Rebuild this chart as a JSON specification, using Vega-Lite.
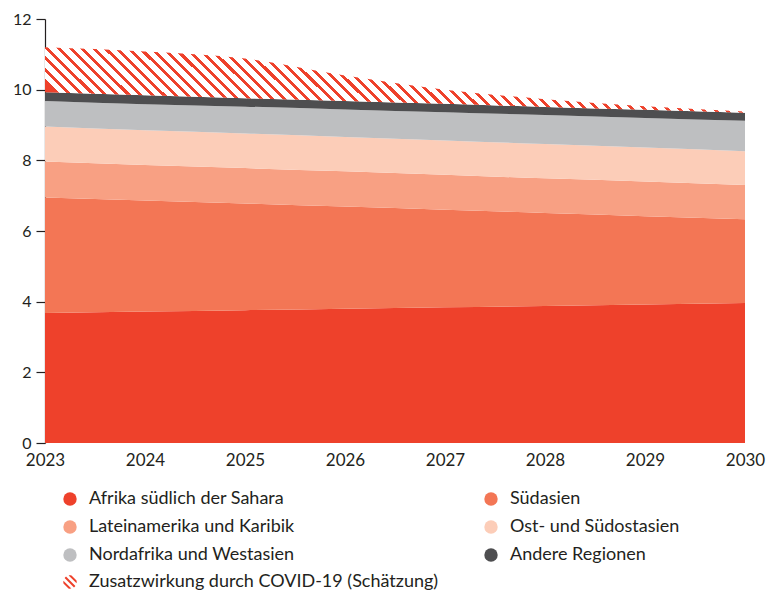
{
  "$schema": "https://vega.github.io/schema/vega-lite/v6.json",
  "autosize": {"type": "none"},
  "width": 700,
  "height": 424,
  "padding": {"left": 45, "top": 19, "right": 37, "bottom": 150},
  "background": "#ffffff",
  "config": {
    "view": {"stroke": null},
    "font": "Lato",
    "axis": {"labelFont": "Lato", "labelColor": "#231F20", "grid": false},
    "legend": {"labelFont": "Lato", "labelFontSize": 18, "labelColor": "#231F20", "labelOffset": 10, "labelLimit": 500, "padding": 0, "symbolSize": 180, "symbolStrokeWidth": 0, "symbolOpacity": 1, "title": null}
  },
  "data": {
    "values": [
      {"year": 2023, "region": "Afrika südlich der Sahara", "value": 3.68, "order": 1},
      {"year": 2024, "region": "Afrika südlich der Sahara", "value": 3.72, "order": 1},
      {"year": 2025, "region": "Afrika südlich der Sahara", "value": 3.76, "order": 1},
      {"year": 2026, "region": "Afrika südlich der Sahara", "value": 3.80, "order": 1},
      {"year": 2027, "region": "Afrika südlich der Sahara", "value": 3.84, "order": 1},
      {"year": 2028, "region": "Afrika südlich der Sahara", "value": 3.88, "order": 1},
      {"year": 2029, "region": "Afrika südlich der Sahara", "value": 3.92, "order": 1},
      {"year": 2030, "region": "Afrika südlich der Sahara", "value": 3.96, "order": 1},
      {"year": 2023, "region": "Südasien", "value": 3.27, "order": 2},
      {"year": 2024, "region": "Südasien", "value": 3.14, "order": 2},
      {"year": 2025, "region": "Südasien", "value": 3.02, "order": 2},
      {"year": 2026, "region": "Südasien", "value": 2.89, "order": 2},
      {"year": 2027, "region": "Südasien", "value": 2.76, "order": 2},
      {"year": 2028, "region": "Südasien", "value": 2.63, "order": 2},
      {"year": 2029, "region": "Südasien", "value": 2.50, "order": 2},
      {"year": 2030, "region": "Südasien", "value": 2.37, "order": 2},
      {"year": 2023, "region": "Lateinamerika und Karibik", "value": 1.02, "order": 3},
      {"year": 2024, "region": "Lateinamerika und Karibik", "value": 1.01, "order": 3},
      {"year": 2025, "region": "Lateinamerika und Karibik", "value": 1.00, "order": 3},
      {"year": 2026, "region": "Lateinamerika und Karibik", "value": 1.00, "order": 3},
      {"year": 2027, "region": "Lateinamerika und Karibik", "value": 0.99, "order": 3},
      {"year": 2028, "region": "Lateinamerika und Karibik", "value": 0.98, "order": 3},
      {"year": 2029, "region": "Lateinamerika und Karibik", "value": 0.98, "order": 3},
      {"year": 2030, "region": "Lateinamerika und Karibik", "value": 0.97, "order": 3},
      {"year": 2023, "region": "Ost- und Südostasien", "value": 0.99, "order": 4},
      {"year": 2024, "region": "Ost- und Südostasien", "value": 0.98, "order": 4},
      {"year": 2025, "region": "Ost- und Südostasien", "value": 0.98, "order": 4},
      {"year": 2026, "region": "Ost- und Südostasien", "value": 0.97, "order": 4},
      {"year": 2027, "region": "Ost- und Südostasien", "value": 0.97, "order": 4},
      {"year": 2028, "region": "Ost- und Südostasien", "value": 0.97, "order": 4},
      {"year": 2029, "region": "Ost- und Südostasien", "value": 0.96, "order": 4},
      {"year": 2030, "region": "Ost- und Südostasien", "value": 0.96, "order": 4},
      {"year": 2023, "region": "Nordafrika und Westasien", "value": 0.72, "order": 5},
      {"year": 2024, "region": "Nordafrika und Westasien", "value": 0.74, "order": 5},
      {"year": 2025, "region": "Nordafrika und Westasien", "value": 0.76, "order": 5},
      {"year": 2026, "region": "Nordafrika und Westasien", "value": 0.78, "order": 5},
      {"year": 2027, "region": "Nordafrika und Westasien", "value": 0.80, "order": 5},
      {"year": 2028, "region": "Nordafrika und Westasien", "value": 0.82, "order": 5},
      {"year": 2029, "region": "Nordafrika und Westasien", "value": 0.84, "order": 5},
      {"year": 2030, "region": "Nordafrika und Westasien", "value": 0.86, "order": 5},
      {"year": 2023, "region": "Andere Regionen", "value": 0.25, "order": 6},
      {"year": 2024, "region": "Andere Regionen", "value": 0.25, "order": 6},
      {"year": 2025, "region": "Andere Regionen", "value": 0.24, "order": 6},
      {"year": 2026, "region": "Andere Regionen", "value": 0.24, "order": 6},
      {"year": 2027, "region": "Andere Regionen", "value": 0.24, "order": 6},
      {"year": 2028, "region": "Andere Regionen", "value": 0.23, "order": 6},
      {"year": 2029, "region": "Andere Regionen", "value": 0.23, "order": 6},
      {"year": 2030, "region": "Andere Regionen", "value": 0.23, "order": 6},
      {"year": 2023, "region": "Zusatzwirkung durch COVID-19 (Schätzung)", "value": 1.27, "order": 7},
      {"year": 2024, "region": "Zusatzwirkung durch COVID-19 (Schätzung)", "value": 1.24, "order": 7},
      {"year": 2025, "region": "Zusatzwirkung durch COVID-19 (Schätzung)", "value": 1.12, "order": 7},
      {"year": 2026, "region": "Zusatzwirkung durch COVID-19 (Schätzung)", "value": 0.72, "order": 7},
      {"year": 2027, "region": "Zusatzwirkung durch COVID-19 (Schätzung)", "value": 0.40, "order": 7},
      {"year": 2028, "region": "Zusatzwirkung durch COVID-19 (Schätzung)", "value": 0.22, "order": 7},
      {"year": 2029, "region": "Zusatzwirkung durch COVID-19 (Schätzung)", "value": 0.10, "order": 7},
      {"year": 2030, "region": "Zusatzwirkung durch COVID-19 (Schätzung)", "value": 0.03, "order": 7}
    ]
  },
  "layer": [
    {
      "transform": [{"filter": "datum.order < 7"}],
      "mark": {"type": "area", "interpolate": "monotone"},
      "encoding": {
        "x": {
          "field": "year", "type": "quantitative",
          "scale": {"domain": [2023, 2030], "nice": false, "zero": false},
          "axis": {"title": null, "values": [2023, 2024, 2025, 2026, 2027, 2028, 2029, 2030], "format": "d", "domain": false, "ticks": false, "labelFontSize": 17, "labelPadding": 9, "labelFlush": false}
        },
        "y": {
          "field": "value", "type": "quantitative", "stack": "zero",
          "scale": {"domain": [0, 12], "nice": false},
          "axis": {"title": null, "values": [0, 2, 4, 6, 8, 10, 12], "domain": true, "domainColor": "#231F20", "domainWidth": 1.2, "tickColor": "#231F20", "tickSize": 9, "tickWidth": 1.2, "labelFontSize": 16, "labelPadding": 5}
        },
        "order": {"field": "order", "type": "quantitative"},
        "color": {
          "field": "region", "type": "nominal",
          "scale": {
            "domain": ["Afrika südlich der Sahara", "Lateinamerika und Karibik", "Nordafrika und Westasien", "Südasien", "Ost- und Südostasien", "Andere Regionen"],
            "range": ["#EE412B", "#F8A083", "#BEBFC1", "#F37655", "#FCCDB8", "#4E4E50"]
          },
          "legend": {
            "title": null,
            "orient": "none",
            "legendX": 16,
            "legendY": 471,
            "columns": 2,
            "columnPadding": 187,
            "rowPadding": 10,
            "symbolType": "circle"
          }
        }
      }
    },
    {
      "transform": [
        {"stack": "value", "groupby": ["year"], "sort": [{"field": "order", "order": "ascending"}], "as": ["v0", "v1"]},
        {"filter": "datum.order === 7"}
      ],
      "mark": {
        "type": "area", "interpolate": "monotone",
        "color": {
          "gradient": "linear", "x1": 0, "y1": 0.547, "x2": 1, "y2": 0.453,
          "stops": [
            {"offset": 0, "color": "#EE412B"}, {"offset": 0.0058, "color": "#EE412B"}, {"offset": 0.0058, "color": "#FFFFFF"}, {"offset": 0.0165, "color": "#FFFFFF"},
            {"offset": 0.0165, "color": "#EE412B"}, {"offset": 0.0223, "color": "#EE412B"}, {"offset": 0.0223, "color": "#FFFFFF"}, {"offset": 0.033, "color": "#FFFFFF"},
            {"offset": 0.033, "color": "#EE412B"}, {"offset": 0.0388, "color": "#EE412B"}, {"offset": 0.0388, "color": "#FFFFFF"}, {"offset": 0.0495, "color": "#FFFFFF"},
            {"offset": 0.0495, "color": "#EE412B"}, {"offset": 0.0553, "color": "#EE412B"}, {"offset": 0.0553, "color": "#FFFFFF"}, {"offset": 0.066, "color": "#FFFFFF"},
            {"offset": 0.066, "color": "#EE412B"}, {"offset": 0.0718, "color": "#EE412B"}, {"offset": 0.0718, "color": "#FFFFFF"}, {"offset": 0.0825, "color": "#FFFFFF"},
            {"offset": 0.0825, "color": "#EE412B"}, {"offset": 0.0883, "color": "#EE412B"}, {"offset": 0.0883, "color": "#FFFFFF"}, {"offset": 0.099, "color": "#FFFFFF"},
            {"offset": 0.099, "color": "#EE412B"}, {"offset": 0.1048, "color": "#EE412B"}, {"offset": 0.1048, "color": "#FFFFFF"}, {"offset": 0.1155, "color": "#FFFFFF"},
            {"offset": 0.1155, "color": "#EE412B"}, {"offset": 0.1213, "color": "#EE412B"}, {"offset": 0.1213, "color": "#FFFFFF"}, {"offset": 0.132, "color": "#FFFFFF"},
            {"offset": 0.132, "color": "#EE412B"}, {"offset": 0.1378, "color": "#EE412B"}, {"offset": 0.1378, "color": "#FFFFFF"}, {"offset": 0.1485, "color": "#FFFFFF"},
            {"offset": 0.1485, "color": "#EE412B"}, {"offset": 0.1543, "color": "#EE412B"}, {"offset": 0.1543, "color": "#FFFFFF"}, {"offset": 0.165, "color": "#FFFFFF"},
            {"offset": 0.165, "color": "#EE412B"}, {"offset": 0.1708, "color": "#EE412B"}, {"offset": 0.1708, "color": "#FFFFFF"}, {"offset": 0.1815, "color": "#FFFFFF"},
            {"offset": 0.1815, "color": "#EE412B"}, {"offset": 0.1873, "color": "#EE412B"}, {"offset": 0.1873, "color": "#FFFFFF"}, {"offset": 0.198, "color": "#FFFFFF"},
            {"offset": 0.198, "color": "#EE412B"}, {"offset": 0.2038, "color": "#EE412B"}, {"offset": 0.2038, "color": "#FFFFFF"}, {"offset": 0.2145, "color": "#FFFFFF"},
            {"offset": 0.2145, "color": "#EE412B"}, {"offset": 0.2203, "color": "#EE412B"}, {"offset": 0.2203, "color": "#FFFFFF"}, {"offset": 0.231, "color": "#FFFFFF"},
            {"offset": 0.231, "color": "#EE412B"}, {"offset": 0.2368, "color": "#EE412B"}, {"offset": 0.2368, "color": "#FFFFFF"}, {"offset": 0.2475, "color": "#FFFFFF"},
            {"offset": 0.2475, "color": "#EE412B"}, {"offset": 0.2533, "color": "#EE412B"}, {"offset": 0.2533, "color": "#FFFFFF"}, {"offset": 0.264, "color": "#FFFFFF"},
            {"offset": 0.264, "color": "#EE412B"}, {"offset": 0.2698, "color": "#EE412B"}, {"offset": 0.2698, "color": "#FFFFFF"}, {"offset": 0.2805, "color": "#FFFFFF"},
            {"offset": 0.2805, "color": "#EE412B"}, {"offset": 0.2863, "color": "#EE412B"}, {"offset": 0.2863, "color": "#FFFFFF"}, {"offset": 0.297, "color": "#FFFFFF"},
            {"offset": 0.297, "color": "#EE412B"}, {"offset": 0.3028, "color": "#EE412B"}, {"offset": 0.3028, "color": "#FFFFFF"}, {"offset": 0.3135, "color": "#FFFFFF"},
            {"offset": 0.3135, "color": "#EE412B"}, {"offset": 0.3193, "color": "#EE412B"}, {"offset": 0.3193, "color": "#FFFFFF"}, {"offset": 0.33, "color": "#FFFFFF"},
            {"offset": 0.33, "color": "#EE412B"}, {"offset": 0.3358, "color": "#EE412B"}, {"offset": 0.3358, "color": "#FFFFFF"}, {"offset": 0.3465, "color": "#FFFFFF"},
            {"offset": 0.3465, "color": "#EE412B"}, {"offset": 0.3523, "color": "#EE412B"}, {"offset": 0.3523, "color": "#FFFFFF"}, {"offset": 0.363, "color": "#FFFFFF"},
            {"offset": 0.363, "color": "#EE412B"}, {"offset": 0.3688, "color": "#EE412B"}, {"offset": 0.3688, "color": "#FFFFFF"}, {"offset": 0.3795, "color": "#FFFFFF"},
            {"offset": 0.3795, "color": "#EE412B"}, {"offset": 0.3853, "color": "#EE412B"}, {"offset": 0.3853, "color": "#FFFFFF"}, {"offset": 0.396, "color": "#FFFFFF"},
            {"offset": 0.396, "color": "#EE412B"}, {"offset": 0.4018, "color": "#EE412B"}, {"offset": 0.4018, "color": "#FFFFFF"}, {"offset": 0.4125, "color": "#FFFFFF"},
            {"offset": 0.4125, "color": "#EE412B"}, {"offset": 0.4183, "color": "#EE412B"}, {"offset": 0.4183, "color": "#FFFFFF"}, {"offset": 0.429, "color": "#FFFFFF"},
            {"offset": 0.429, "color": "#EE412B"}, {"offset": 0.4348, "color": "#EE412B"}, {"offset": 0.4348, "color": "#FFFFFF"}, {"offset": 0.4455, "color": "#FFFFFF"},
            {"offset": 0.4455, "color": "#EE412B"}, {"offset": 0.4513, "color": "#EE412B"}, {"offset": 0.4513, "color": "#FFFFFF"}, {"offset": 0.462, "color": "#FFFFFF"},
            {"offset": 0.462, "color": "#EE412B"}, {"offset": 0.4678, "color": "#EE412B"}, {"offset": 0.4678, "color": "#FFFFFF"}, {"offset": 0.4785, "color": "#FFFFFF"},
            {"offset": 0.4785, "color": "#EE412B"}, {"offset": 0.4843, "color": "#EE412B"}, {"offset": 0.4843, "color": "#FFFFFF"}, {"offset": 0.495, "color": "#FFFFFF"},
            {"offset": 0.495, "color": "#EE412B"}, {"offset": 0.5008, "color": "#EE412B"}, {"offset": 0.5008, "color": "#FFFFFF"}, {"offset": 0.5115, "color": "#FFFFFF"},
            {"offset": 0.5115, "color": "#EE412B"}, {"offset": 0.5173, "color": "#EE412B"}, {"offset": 0.5173, "color": "#FFFFFF"}, {"offset": 0.528, "color": "#FFFFFF"},
            {"offset": 0.528, "color": "#EE412B"}, {"offset": 0.5338, "color": "#EE412B"}, {"offset": 0.5338, "color": "#FFFFFF"}, {"offset": 0.5445, "color": "#FFFFFF"},
            {"offset": 0.5445, "color": "#EE412B"}, {"offset": 0.5503, "color": "#EE412B"}, {"offset": 0.5503, "color": "#FFFFFF"}, {"offset": 0.561, "color": "#FFFFFF"},
            {"offset": 0.561, "color": "#EE412B"}, {"offset": 0.5668, "color": "#EE412B"}, {"offset": 0.5668, "color": "#FFFFFF"}, {"offset": 0.5775, "color": "#FFFFFF"},
            {"offset": 0.5775, "color": "#EE412B"}, {"offset": 0.5833, "color": "#EE412B"}, {"offset": 0.5833, "color": "#FFFFFF"}, {"offset": 0.594, "color": "#FFFFFF"},
            {"offset": 0.594, "color": "#EE412B"}, {"offset": 0.5998, "color": "#EE412B"}, {"offset": 0.5998, "color": "#FFFFFF"}, {"offset": 0.6105, "color": "#FFFFFF"},
            {"offset": 0.6105, "color": "#EE412B"}, {"offset": 0.6163, "color": "#EE412B"}, {"offset": 0.6163, "color": "#FFFFFF"}, {"offset": 0.627, "color": "#FFFFFF"},
            {"offset": 0.627, "color": "#EE412B"}, {"offset": 0.6328, "color": "#EE412B"}, {"offset": 0.6328, "color": "#FFFFFF"}, {"offset": 0.6435, "color": "#FFFFFF"},
            {"offset": 0.6435, "color": "#EE412B"}, {"offset": 0.6493, "color": "#EE412B"}, {"offset": 0.6493, "color": "#FFFFFF"}, {"offset": 0.66, "color": "#FFFFFF"},
            {"offset": 0.66, "color": "#EE412B"}, {"offset": 0.6658, "color": "#EE412B"}, {"offset": 0.6658, "color": "#FFFFFF"}, {"offset": 0.6765, "color": "#FFFFFF"},
            {"offset": 0.6765, "color": "#EE412B"}, {"offset": 0.6823, "color": "#EE412B"}, {"offset": 0.6823, "color": "#FFFFFF"}, {"offset": 0.693, "color": "#FFFFFF"},
            {"offset": 0.693, "color": "#EE412B"}, {"offset": 0.6988, "color": "#EE412B"}, {"offset": 0.6988, "color": "#FFFFFF"}, {"offset": 0.7095, "color": "#FFFFFF"},
            {"offset": 0.7095, "color": "#EE412B"}, {"offset": 0.7153, "color": "#EE412B"}, {"offset": 0.7153, "color": "#FFFFFF"}, {"offset": 0.726, "color": "#FFFFFF"},
            {"offset": 0.726, "color": "#EE412B"}, {"offset": 0.7318, "color": "#EE412B"}, {"offset": 0.7318, "color": "#FFFFFF"}, {"offset": 0.7425, "color": "#FFFFFF"},
            {"offset": 0.7425, "color": "#EE412B"}, {"offset": 0.7483, "color": "#EE412B"}, {"offset": 0.7483, "color": "#FFFFFF"}, {"offset": 0.759, "color": "#FFFFFF"},
            {"offset": 0.759, "color": "#EE412B"}, {"offset": 0.7648, "color": "#EE412B"}, {"offset": 0.7648, "color": "#FFFFFF"}, {"offset": 0.7755, "color": "#FFFFFF"},
            {"offset": 0.7755, "color": "#EE412B"}, {"offset": 0.7813, "color": "#EE412B"}, {"offset": 0.7813, "color": "#FFFFFF"}, {"offset": 0.792, "color": "#FFFFFF"},
            {"offset": 0.792, "color": "#EE412B"}, {"offset": 0.7978, "color": "#EE412B"}, {"offset": 0.7978, "color": "#FFFFFF"}, {"offset": 0.8085, "color": "#FFFFFF"},
            {"offset": 0.8085, "color": "#EE412B"}, {"offset": 0.8143, "color": "#EE412B"}, {"offset": 0.8143, "color": "#FFFFFF"}, {"offset": 0.825, "color": "#FFFFFF"},
            {"offset": 0.825, "color": "#EE412B"}, {"offset": 0.8308, "color": "#EE412B"}, {"offset": 0.8308, "color": "#FFFFFF"}, {"offset": 0.8415, "color": "#FFFFFF"},
            {"offset": 0.8415, "color": "#EE412B"}, {"offset": 0.8473, "color": "#EE412B"}, {"offset": 0.8473, "color": "#FFFFFF"}, {"offset": 0.858, "color": "#FFFFFF"},
            {"offset": 0.858, "color": "#EE412B"}, {"offset": 0.8638, "color": "#EE412B"}, {"offset": 0.8638, "color": "#FFFFFF"}, {"offset": 0.8745, "color": "#FFFFFF"},
            {"offset": 0.8745, "color": "#EE412B"}, {"offset": 0.8803, "color": "#EE412B"}, {"offset": 0.8803, "color": "#FFFFFF"}, {"offset": 0.891, "color": "#FFFFFF"},
            {"offset": 0.891, "color": "#EE412B"}, {"offset": 0.8968, "color": "#EE412B"}, {"offset": 0.8968, "color": "#FFFFFF"}, {"offset": 0.9075, "color": "#FFFFFF"},
            {"offset": 0.9075, "color": "#EE412B"}, {"offset": 0.9133, "color": "#EE412B"}, {"offset": 0.9133, "color": "#FFFFFF"}, {"offset": 0.924, "color": "#FFFFFF"},
            {"offset": 0.924, "color": "#EE412B"}, {"offset": 0.9298, "color": "#EE412B"}, {"offset": 0.9298, "color": "#FFFFFF"}, {"offset": 0.9405, "color": "#FFFFFF"},
            {"offset": 0.9405, "color": "#EE412B"}, {"offset": 0.9463, "color": "#EE412B"}, {"offset": 0.9463, "color": "#FFFFFF"}, {"offset": 0.957, "color": "#FFFFFF"},
            {"offset": 0.957, "color": "#EE412B"}, {"offset": 0.9628, "color": "#EE412B"}, {"offset": 0.9628, "color": "#FFFFFF"}, {"offset": 0.9735, "color": "#FFFFFF"},
            {"offset": 0.9735, "color": "#EE412B"}, {"offset": 0.9793, "color": "#EE412B"}, {"offset": 0.9793, "color": "#FFFFFF"}, {"offset": 0.99, "color": "#FFFFFF"},
            {"offset": 0.99, "color": "#EE412B"}, {"offset": 0.9958, "color": "#EE412B"}, {"offset": 0.9958, "color": "#FFFFFF"}, {"offset": 1, "color": "#FFFFFF"}
          ]
        }
      },
      "encoding": {
        "x": {"field": "year", "type": "quantitative"},
        "y": {"field": "v1", "type": "quantitative"},
        "y2": {"field": "v0"}
      }
    },
    {
      "transform": [{"filter": "false"}],
      "mark": {"type": "point", "filled": true, "color": "#EE412B", "opacity": 1},
      "encoding": {
        "x": {"field": "year", "type": "quantitative"},
        "y": {"field": "value", "type": "quantitative"},
        "shape": {
          "datum": "Zusatzwirkung durch COVID-19 (Schätzung)", "type": "nominal",
          "scale": {"range": ["M-0.9735,0.2285L-0.2285,0.9735A1,1,0,0,0,0.2017,0.9795L-0.9795,-0.2017A1,1,0,0,0,-0.9735,0.2285Z M-0.8052,-0.593L0.593,0.8052A1,1,0,0,0,0.8052,0.593L-0.593,-0.8052A1,1,0,0,0,-0.8052,-0.593Z M-0.2017,-0.9795L0.9795,0.2017A1,1,0,0,0,0.9735,-0.2285L0.2285,-0.9735A1,1,0,0,0,-0.2017,-0.9795Z"]},
          "legend": {
            "title": null,
            "orient": "none",
            "legendX": 16,
            "legendY": 554,
            "symbolFillColor": "#EE412B"
          }
        }
      }
    }
  ]
}
